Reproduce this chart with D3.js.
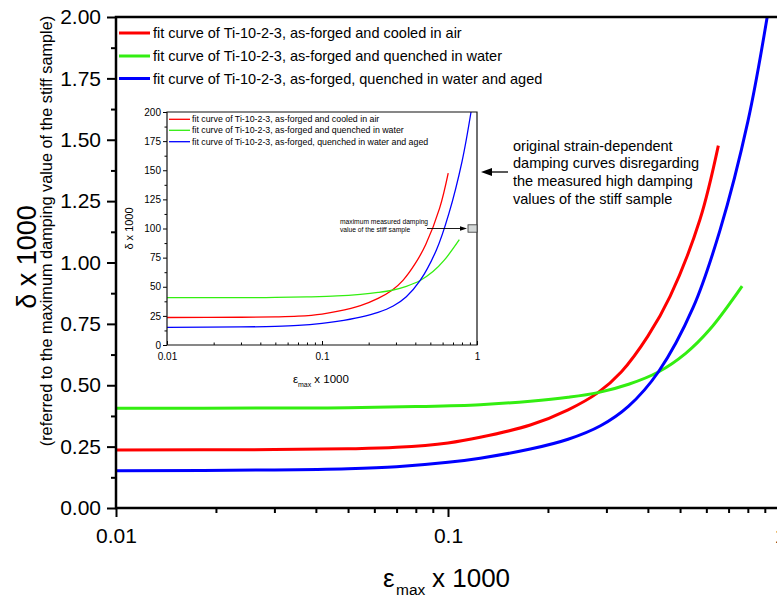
<!DOCTYPE html>
<html>
<head>
<meta charset="utf-8">
<script src="https://cdn.jsdelivr.net/npm/d3@7"></script>
<style>
  html, body { margin: 0; padding: 0; background: #fff; overflow: hidden; }
  svg { display: block; font-family: "Liberation Sans", Arial, Helvetica, sans-serif; }
</style>
</head>
<body>
<svg id="chart" width="777" height="599"></svg>
<script>
// ---- data: fit curves of Ti-10-2-3, strain amplitude (ε_max × 1000) vs damping (δ × 1000)
const airStrain      = [0.01, 0.03, 0.05, 0.07, 0.1, 0.125, 0.177, 0.23, 0.283, 0.333, 0.4, 0.467, 0.574, 0.652];
const airDamping     = [23.6, 23.8, 24.1, 24.7, 26.5, 28.8, 33.8, 40.0, 47.0, 55.5, 70.0, 86.3, 117.5, 147.6];

const waterStrain    = [0.01, 0.03, 0.05, 0.08, 0.125, 0.177, 0.23, 0.283, 0.35, 0.43, 0.52, 0.615, 0.769];
const waterDamping   = [40.6, 40.7, 40.8, 41.3, 42.1, 43.5, 45.1, 47.0, 50.4, 55.4, 63.0, 72.8, 90.4];

const agedStrain     = [0.01, 0.03, 0.05, 0.07, 0.1, 0.125, 0.177, 0.23, 0.288, 0.35, 0.43, 0.548, 0.659, 0.801, 0.915];
const agedDamping    = [15.2, 15.5, 16.0, 16.8, 18.6, 20.3, 24.0, 28.0, 33.5, 41.5, 55.4, 81.8, 113.0, 157.7, 200.0];

const seriesNames = [
  "fit curve of Ti-10-2-3, as-forged and cooled in air",
  "fit curve of Ti-10-2-3, as-forged and quenched in water",
  "fit curve of Ti-10-2-3, as-forged, quenched in water and aged"
];

// maximum measured damping value of the stiff sample (δ × 1000); the main plot is referred to it
const stiffSampleMax = 100;

// tick values
const mainYTicks   = [0, 0.25, 0.5, 0.75, 1.0, 1.25, 1.5, 1.75, 2.0];
const mainYMinor   = [0.125, 0.375, 0.625, 0.875, 1.125, 1.375, 1.625, 1.875];
const xTicks       = [0.01, 0.1, 1];
const xMinor       = [0.02, 0.03, 0.04, 0.05, 0.06, 0.07, 0.08, 0.09, 0.2, 0.3, 0.4, 0.5, 0.6, 0.7, 0.8, 0.9];
const insetYTicks  = [0, 25, 50, 75, 100, 125, 150, 175, 200];
const insetYMinor  = [12.5, 37.5, 62.5, 87.5, 112.5, 137.5, 162.5, 187.5];

const noteLines = [
  "original strain-dependent",
  "damping curves disregarding",
  "the measured high damping",
  "values of the stiff sample"
];
const insetNoteLines = ["maximum measured damping", "value of the stiff sample"];

// ---- styling
const colors = ["#ff0000", "#33ee11", "#0000ff"];

const series = [
  { name: seriesNames[0], color: colors[0], pts: d3.zip(airStrain, airDamping) },
  { name: seriesNames[1], color: colors[1], pts: d3.zip(waterStrain, waterDamping) },
  { name: seriesNames[2], color: colors[2], pts: d3.zip(agedStrain, agedDamping) }
];

const svg = d3.select("#chart");

// ================= main plot =================
const M = { left: 116, right: 780, top: 17, bottom: 508 };
const x = d3.scaleLog().domain([0.01, 1]).range([M.left, M.right]);
const y = d3.scaleLinear().domain([0, 2]).range([M.bottom, M.top]);

svg.append("clipPath").attr("id", "mainClip")
  .append("rect").attr("x", M.left).attr("y", M.top - 2)
  .attr("width", M.right - M.left).attr("height", M.bottom - M.top + 2);

const mainLine = d3.line()
  .x(d => x(d[0]))
  .y(d => y(d[1] / stiffSampleMax))
  .curve(d3.curveCatmullRom.alpha(0.5));

svg.append("g").attr("clip-path", "url(#mainClip)")
  .selectAll("path").data(series).join("path")
  .attr("d", d => mainLine(d.pts))
  .attr("fill", "none")
  .attr("stroke", d => d.color)
  .attr("stroke-width", 3);

// axes
function styleAxis(g, size, width) {
  g.selectAll(".tick line").attr("stroke", "#000").attr("stroke-width", width);
  g.selectAll(".tick text").attr("fill", "#000").attr("font-size", size)
    .attr("font-family", "\"Liberation Sans\", Arial, sans-serif");
}

const gy = svg.append("g").attr("transform", `translate(${M.left},0)`)
  .call(d3.axisLeft(y).tickValues(mainYTicks).tickFormat(d3.format(".2f"))
    .tickSize(9).tickPadding(6).tickSizeOuter(0));
gy.select(".domain").remove();
styleAxis(gy, 21, 2);

const gyMinor = svg.append("g").attr("transform", `translate(${M.left},0)`)
  .call(d3.axisLeft(y).tickValues(mainYMinor).tickFormat("").tickSize(5).tickSizeOuter(0));
gyMinor.select(".domain").remove();
styleAxis(gyMinor, 21, 2);

const gx = svg.append("g").attr("transform", `translate(0,${M.bottom})`)
  .call(d3.axisBottom(x).tickValues(xTicks).tickFormat(d3.format("~g"))
    .tickSize(9).tickPadding(11).tickSizeOuter(0));
gx.select(".domain").remove();
styleAxis(gx, 21, 2);

const gxMinor = svg.append("g").attr("transform", `translate(0,${M.bottom})`)
  .call(d3.axisBottom(x).tickValues(xMinor).tickFormat("").tickSize(5).tickSizeOuter(0));
gxMinor.select(".domain").remove();
styleAxis(gxMinor, 21, 2);

// frame
svg.append("path")
  .attr("d", `M${M.left},${M.top}V${M.bottom}H${M.right}V${M.top}Z`)
  .attr("fill", "none").attr("stroke", "#000").attr("stroke-width", 2.5);

// axis titles
svg.append("text")
  .attr("transform", "translate(35.5,257) rotate(-90)")
  .attr("text-anchor", "middle").attr("font-size", 27).attr("fill", "#000")
  .text("δ x 1000");
svg.append("text")
  .attr("transform", "translate(51.5,231) rotate(-90)")
  .attr("text-anchor", "middle").attr("font-size", 16.3).attr("fill", "#000")
  .text("(referred to the maximum damping value of the stiff sample)");

const xt = svg.append("text").attr("fill", "#000");
xt.append("tspan").attr("x", 383).attr("y", 587).attr("font-size", 26).text("ε");
xt.append("tspan").attr("x", 396).attr("y", 595).attr("font-size", 15.5).text("max");
xt.append("tspan").attr("x", 432).attr("y", 587).attr("font-size", 26).text("x 1000");

// legend
const legRows = [33, 56, 78.5];
const leg = svg.append("g").selectAll("g").data(series).join("g")
  .attr("transform", (d, i) => `translate(0,${legRows[i]})`);
leg.append("line").attr("x1", 119).attr("x2", 150)
  .attr("stroke", d => d.color).attr("stroke-width", 3);
leg.append("text").attr("x", 153).attr("dy", "0.35em")
  .attr("font-size", 14.5).attr("fill", "#000").text(d => d.name);

// note with arrow
svg.append("g").selectAll("text").data(noteLines).join("text")
  .attr("x", 513).attr("y", (d, i) => 150.7 + i * 17.6)
  .attr("font-size", 14.5).attr("fill", "#000").text(d => d);
svg.append("line").attr("x1", 508).attr("x2", 488).attr("y1", 172).attr("y2", 172)
  .attr("stroke", "#000").attr("stroke-width", 1.3);
svg.append("path").attr("d", "M481,172L492,168L492,176Z").attr("fill", "#000");

// ================= inset =================
const I = { left: 167, right: 477, top: 112, bottom: 345 };
const xi = d3.scaleLog().domain([0.01, 1]).range([I.left, I.right]);
const yi = d3.scaleLinear().domain([0, 200]).range([I.bottom, I.top]);

svg.append("clipPath").attr("id", "insetClip")
  .append("rect").attr("x", I.left).attr("y", I.top - 1)
  .attr("width", I.right - I.left).attr("height", I.bottom - I.top + 1);

const insetLine = d3.line()
  .x(d => xi(d[0]))
  .y(d => yi(d[1]))
  .curve(d3.curveCatmullRom.alpha(0.5));

svg.append("g").attr("clip-path", "url(#insetClip)")
  .selectAll("path").data(series).join("path")
  .attr("d", d => insetLine(d.pts))
  .attr("fill", "none")
  .attr("stroke", d => d.color)
  .attr("stroke-width", 1.3);

const iy = svg.append("g").attr("transform", `translate(${I.left},0)`)
  .call(d3.axisLeft(yi).tickValues(insetYTicks).tickSize(4).tickPadding(2).tickSizeOuter(0));
iy.select(".domain").remove();
styleAxis(iy, 10, 1);
const iyMinor = svg.append("g").attr("transform", `translate(${I.left},0)`)
  .call(d3.axisLeft(yi).tickValues(insetYMinor).tickFormat("").tickSize(2.5).tickSizeOuter(0));
iyMinor.select(".domain").remove();
styleAxis(iyMinor, 10, 1);

const ix = svg.append("g").attr("transform", `translate(0,${I.bottom})`)
  .call(d3.axisBottom(xi).tickValues(xTicks).tickFormat(d3.format("~g"))
    .tickSize(-4).tickPadding(8).tickSizeOuter(0));
ix.select(".domain").remove();
styleAxis(ix, 10, 1);
const ixMinor = svg.append("g").attr("transform", `translate(0,${I.bottom})`)
  .call(d3.axisBottom(xi).tickValues(xMinor).tickFormat("").tickSize(-2.5).tickSizeOuter(0));
ixMinor.select(".domain").remove();
styleAxis(ixMinor, 10, 1);

svg.append("path")
  .attr("d", `M${I.left},${I.top}V${I.bottom}H${I.right}V${I.top}Z`)
  .attr("fill", "none").attr("stroke", "#111").attr("stroke-width", 1.2);

// inset titles
svg.append("text")
  .attr("transform", `translate(133,${(I.top + I.bottom) / 2}) rotate(-90)`)
  .attr("text-anchor", "middle").attr("font-size", 11).attr("fill", "#000")
  .text("δ x 1000");
const ixt = svg.append("text").attr("fill", "#000");
ixt.append("tspan").attr("x", 293).attr("y", 383.3).attr("font-size", 11.5).text("ε");
ixt.append("tspan").attr("x", 298).attr("y", 386.7).attr("font-size", 7).text("max");
ixt.append("tspan").attr("x", 314.3).attr("y", 383.3).attr("font-size", 11.5).text("x 1000");

// inset legend
const iRows = [119.3, 130.3, 141.7];
const ileg = svg.append("g").selectAll("g").data(series).join("g")
  .attr("transform", (d, i) => `translate(0,${iRows[i]})`);
ileg.append("line").attr("x1", 169).attr("x2", 190)
  .attr("stroke", d => d.color).attr("stroke-width", 1.3);
ileg.append("text").attr("x", 192).attr("dy", "0.35em")
  .attr("font-size", 8.8).attr("fill", "#000").text(d => d.name);

// stiff-sample marker with arrow
const yStiff = yi(stiffSampleMax);
svg.append("rect").attr("x", 468).attr("y", yStiff - 3.7).attr("width", 9).attr("height", 7.4)
  .attr("fill", "#d4d8d8").attr("stroke", "#333").attr("stroke-width", 0.8);
svg.append("line").attr("x1", 427).attr("x2", 462).attr("y1", yStiff).attr("y2", yStiff)
  .attr("stroke", "#000").attr("stroke-width", 0.9);
svg.append("path").attr("d", `M467,${yStiff}L460,${yStiff - 2.3}L460,${yStiff + 2.3}Z`).attr("fill", "#000");
svg.append("g").selectAll("text").data(insetNoteLines).join("text")
  .attr("x", 340).attr("y", (d, i) => 223.5 + i * 8.8)
  .attr("font-size", 6.7).attr("fill", "#000").text(d => d);
</script>
</body>
</html>
